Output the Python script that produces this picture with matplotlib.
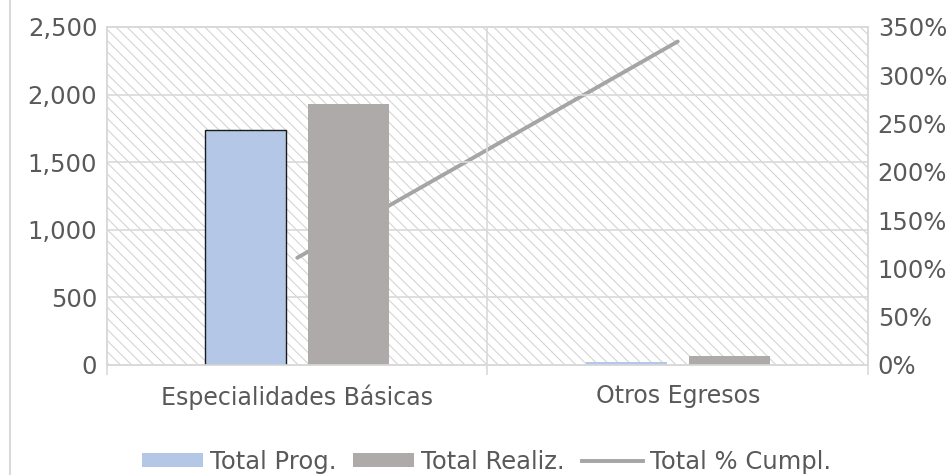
import matplotlib.pyplot as plt
import numpy as np
from matplotlib.lines import Line2D
from matplotlib.patches import Patch
from matplotlib.ticker import FuncFormatter, FixedLocator

# datos del gráfico
categorias = ["Especialidades Básicas", "Otros Egresos"]
total_prog = [1738, 20]
total_realiz = [1930, 67]
total_cumpl = [1.11, 3.35]

azul = "#b4c7e7"
gris = "#aeaaaa"
linea = "#a5a5a5"
rejilla = "#d9d9d9"
texto = "#595959"

plt.rcParams["font.family"] = "DejaVu Sans"
plt.rcParams["hatch.color"] = "#d2d2d2"
plt.rcParams["hatch.linewidth"] = 0.75

fig = plt.figure(figsize=(9.53, 4.75), dpi=100)
ax_line = fig.add_axes([107 / 953, 1 - 365 / 475, (868 - 107) / 953, (365 - 27) / 475])
ax_bar = ax_line.twinx()

# fondo rayado
ax_line.patch.set_facecolor("white")
ax_line.patch.set_edgecolor("#d2d2d2")
ax_line.patch.set_linewidth(0)
ax_line.patch.set_hatch("\\\\\\")

x = np.arange(len(categorias))
ancho = 0.213
ax_bar.bar(x - 0.135, total_prog, ancho, color=azul,
           edgecolor=["#1a1a1a", azul], linewidth=[1.0, 0], zorder=2)
ax_bar.bar(x + 0.135, total_realiz, ancho, color=gris, linewidth=0, zorder=2)
ax_line.plot(x, total_cumpl, color=linea, lw=2.8, solid_capstyle="round")

ax_bar.set_ylim(0, 2500)
ax_bar.set_yticks(np.arange(0, 2501, 500))
ax_bar.yaxis.set_major_formatter(FuncFormatter(lambda v, p: f"{v:,.0f}"))
ax_bar.yaxis.tick_left()
ax_bar.set_axisbelow(True)
ax_bar.grid(axis="y", color=rejilla, lw=1.2)
ax_bar.axvline(0.5, color=rejilla, lw=1.2, zorder=0.5)

ax_line.set_ylim(0, 3.5)
ax_line.set_yticks(np.arange(0, 3.51, 0.5))
ax_line.yaxis.set_major_formatter(FuncFormatter(lambda v, p: f"{v * 100:.0f}%"))
ax_line.yaxis.tick_right()

ax_line.set_xlim(-0.5, 1.5)
ax_line.set_xticks(x)
ax_line.set_xticklabels(categorias)
ax_line.xaxis.set_minor_locator(FixedLocator([-0.5, 0.5, 1.5]))
ax_line.tick_params(axis="x", which="major", length=0, pad=14, labelsize=17)
ax_line.tick_params(axis="x", which="minor", length=7, color=rejilla, width=1.2)

for a in (ax_line, ax_bar):
    a.tick_params(axis="y", length=0, pad=7, labelsize=17.5)
    a.tick_params(labelcolor=texto)
    for s in a.spines.values():
        s.set_color(rejilla)
        s.set_linewidth(1.2)

handles = [Patch(facecolor=azul), Patch(facecolor=gris),
           Line2D([], [], color=linea, lw=2.8)]
labels = ["Total Prog.", "Total Realiz.", "Total % Cumpl."]
fig.legend(handles, labels, loc="center", bbox_to_anchor=(486.5 / 953, 0.028), ncol=3,
           frameon=False, labelcolor=texto, fontsize=17.5, handlelength=2.5,
           handleheight=0.55, handletextpad=0.3, columnspacing=0.7)

# borde exterior del gráfico
fig.add_artist(Line2D([10 / 953, 10 / 953], [0, 1], transform=fig.transFigure,
                      color=rejilla, lw=1.5))

fig.savefig("out.png", dpi=100)
